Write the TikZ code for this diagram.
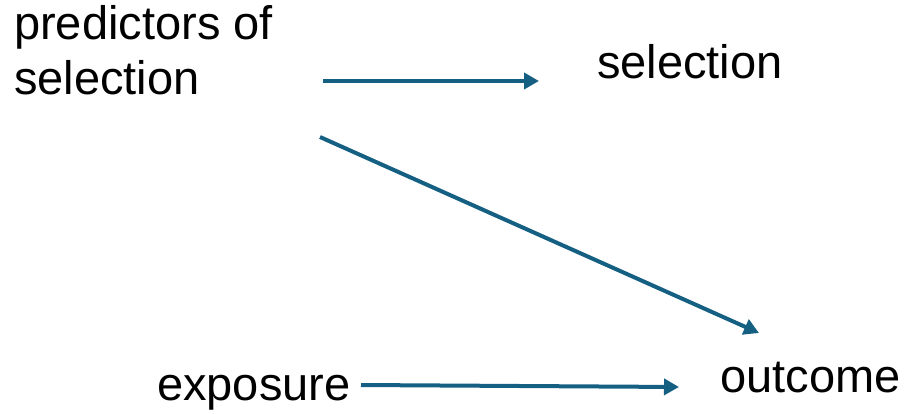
\documentclass[tikz,border=0pt]{standalone}
\usepackage{fontspec}
\setmainfont{Liberation Sans}
\usetikzlibrary{arrows.meta}
\definecolor{arrowblue}{RGB}{21,96,130}
\begin{document}
\begin{tikzpicture}[x=1pt,y=-1pt,
  lbl/.style={anchor=base west,inner sep=0pt,font=\fontsize{47}{55}\selectfont,align=left},
  arr/.style={draw=arrowblue,line width=4pt,-{Triangle[length=15pt,width=16pt]}}]
\useasboundingbox (0,0) rectangle (909,414);
\node[lbl] (pred) at (14,95) {predictors of\\selection};
\node[lbl] (sel) at (597,79) {selection};
\node[lbl] (expo) at (157,400) {exposure};
\node[lbl] (out) at (720,392) {outcome};
\coordinate (p1) at (323,81);
\coordinate (s1) at (539,81);
\coordinate (p2) at (320,137);
\coordinate (o2) at (759,333);
\coordinate (e3) at (361,385);
\coordinate (o3) at (679,387);
\draw[arr] (p1) -- (s1);
\draw[arr] (p2) -- (o2);
\draw[arr] (e3) -- (o3);
\end{tikzpicture}
\end{document}
